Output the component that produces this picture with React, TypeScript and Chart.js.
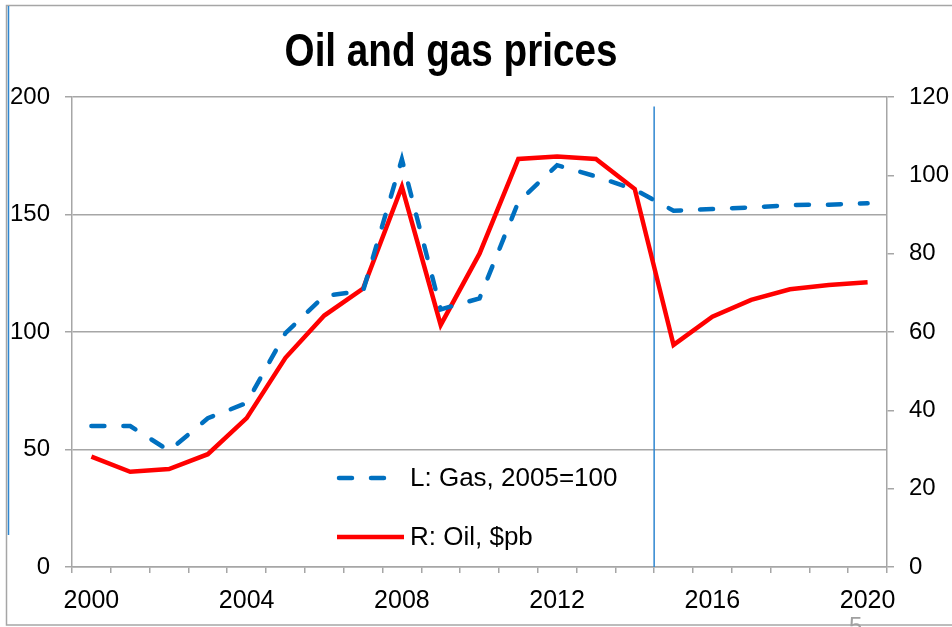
import React, { useEffect, useRef } from "react";
import { Chart, registerables } from "chart.js";

Chart.register(...registerables);

const years = [
  "2000", "2001", "2002", "2003", "2004", "2005", "2006", "2007", "2008", "2009", "2010",
  "2011", "2012", "2013", "2014", "2015", "2016", "2017", "2018", "2019", "2020",
];
const gasIndex = [60, 60, 49.5, 63.3, 69.8, 99.5, 115.3, 117.5, 173.5, 109.6, 114.3, 155.3, 171, 166.2, 160.6, 151.6, 152.3, 153, 154, 154.2, 154.8];
const oilPrice = [28.2, 24.3, 25, 28.8, 38, 53.4, 64.2, 71.1, 97.1, 61.8, 80, 104.2, 104.8, 104.2, 96.5, 56.7, 63.9, 68.2, 70.9, 72, 72.7];
const leftTicks = [0, 50, 100, 150, 200];
const rightTicks = [0, 20, 40, 60, 80, 100, 120];
const labelEvery = 4;
const forecastStart = 14.5; // category position of the vertical marker
const forecastTop = 196; // left-axis value at which the marker begins

const titleText = "Oil and gas prices";
const gasLabel = "L: Gas, 2005=100";
const oilLabel = "R: Oil, $pb";

const GRAY = "#a6a6a6";
const BLUE = "#0070c0";
const RED = "#ff0000";
const FONT = "'Liberation Sans', Arial, sans-serif";

const decorPlugin = {
  id: "decor",
  beforeDraw(chart: any) {
    const ctx = chart.ctx;
    ctx.save();
    ctx.fillStyle = "#ffffff";
    ctx.fillRect(0, 0, chart.width, chart.height);
    // slide frame
    ctx.strokeStyle = GRAY;
    ctx.lineWidth = 1.5;
    ctx.strokeRect(6.5, 5.5, chart.width + 20, 619.5);
    // left blue slide edge
    ctx.strokeStyle = "#2e86d0";
    ctx.lineWidth = 1.5;
    ctx.beginPath();
    ctx.moveTo(8.5, 6);
    ctx.lineTo(8.5, 535);
    ctx.stroke();
    // title (condensed bold)
    ctx.save();
    ctx.translate(451, 66);
    ctx.scale(0.84, 1);
    ctx.fillStyle = "#000";
    ctx.font = "bold 46px " + FONT;
    ctx.textAlign = "center";
    ctx.textBaseline = "alphabetic";
    ctx.fillText(titleText, 0, 0);
    ctx.restore();
    // page number, mostly cut off
    ctx.fillStyle = "#a0a0a0";
    ctx.font = "24px " + FONT;
    ctx.textAlign = "left";
    ctx.textBaseline = "top";
    ctx.fillText("5", 849, 615);
    ctx.restore();
  },
  beforeDatasetsDraw(chart: any) {
    const ctx = chart.ctx;
    const x = chart.scales.x.getPixelForValue(forecastStart);
    const yTop = chart.scales.yL.getPixelForValue(forecastTop);
    const yBot = chart.scales.yL.getPixelForValue(0);
    ctx.save();
    ctx.strokeStyle = "#2e86d0";
    ctx.lineWidth = 1.5;
    ctx.beginPath();
    ctx.moveTo(x, yTop);
    ctx.lineTo(x, yBot);
    ctx.stroke();
    ctx.restore();
  },
  afterDraw(chart: any) {
    const ctx = chart.ctx;
    const rows = [
      { ds: chart.data.datasets[0], y: 478 },
      { ds: chart.data.datasets[1], y: 537 },
    ];
    ctx.save();
    rows.forEach((r) => {
      ctx.strokeStyle = r.ds.borderColor;
      ctx.lineWidth = r.ds.borderWidth;
      ctx.lineCap = r.ds.borderDash ? "round" : "butt";
      ctx.setLineDash(r.ds.borderDash || []);
      ctx.beginPath();
      ctx.moveTo(r.ds.borderDash ? 339 : 337, r.y);
      ctx.lineTo(r.ds.borderDash ? 387 : 404, r.y);
      ctx.stroke();
      ctx.setLineDash([]);
      ctx.fillStyle = "#000";
      ctx.font = "26px " + FONT;
      ctx.textAlign = "left";
      ctx.textBaseline = "middle";
      ctx.fillText(r.ds.label, 410, r.y + 0.5);
    });
    ctx.restore();
  },
};

export default function App() {
  const ref = useRef<HTMLCanvasElement>(null);
  useEffect(() => {
    document.body.style.margin = "0";
    Chart.defaults.font.family = FONT;
    Chart.defaults.color = "#000";
    const chart = new Chart(ref.current as HTMLCanvasElement, {
      type: "line",
      data: {
        labels: years,
        datasets: [
          {
            label: gasLabel,
            data: gasIndex,
            yAxisID: "yL",
            borderColor: BLUE,
            borderWidth: 4.5,
            borderDash: [13, 19],
            borderCapStyle: "round",
            pointRadius: 0,
            tension: 0,
            fill: false,
          },
          {
            label: oilLabel,
            data: oilPrice,
            yAxisID: "yR",
            borderColor: RED,
            borderWidth: 4.5,
            borderJoinStyle: "miter",
            pointRadius: 0,
            tension: 0,
            fill: false,
          },
        ],
      },
      options: {
        responsive: false,
        animation: false,
        layout: { padding: { top: 97, left: 0, right: 0, bottom: 0 } },
        plugins: {
          legend: { display: false },
          title: { display: false },
          tooltip: { enabled: false },
        },
        scales: {
          x: {
            type: "category",
            offset: true,
            grid: { offset: true, drawOnChartArea: false, tickLength: 6, color: GRAY, lineWidth: 1.5 },
            border: { color: GRAY, width: 1.5 },
            ticks: {
              autoSkip: false,
              maxRotation: 0,
              padding: 13,
              font: { size: 25 },
              callback: (_v: any, i: number) => (i % labelEvery === 0 ? years[i] : ""),
            },
            afterFit: (s: any) => {
              s.height = 60;
            },
          },
          yL: {
            position: "left",
            min: leftTicks[0],
            max: leftTicks[leftTicks.length - 1],
            afterBuildTicks: (s: any) => {
              s.ticks = leftTicks.map((v) => ({ value: v }));
            },
            grid: { color: GRAY, lineWidth: 1.5, tickLength: 7 },
            border: { color: GRAY, width: 1.5 },
            ticks: { padding: 15, font: { size: 24 } },
            afterFit: (s: any) => {
              s.width = 72;
            },
          },
          yR: {
            position: "right",
            min: rightTicks[0],
            max: rightTicks[rightTicks.length - 1],
            afterBuildTicks: (s: any) => {
              s.ticks = rightTicks.map((v) => ({ value: v }));
            },
            grid: { drawOnChartArea: false, color: GRAY, lineWidth: 1.5, tickLength: 7 },
            border: { color: GRAY, width: 1.5 },
            ticks: { padding: 15, font: { size: 24 } },
            afterFit: (s: any) => {
              s.width = 65;
            },
          },
        },
      },
      plugins: [decorPlugin],
    } as any);
    return () => chart.destroy();
  }, []);
  return (
    <div style={{ position: "absolute", left: 0, top: 0, width: 952, height: 627 }}>
      <canvas ref={ref} width={952} height={627} />
    </div>
  );
}
